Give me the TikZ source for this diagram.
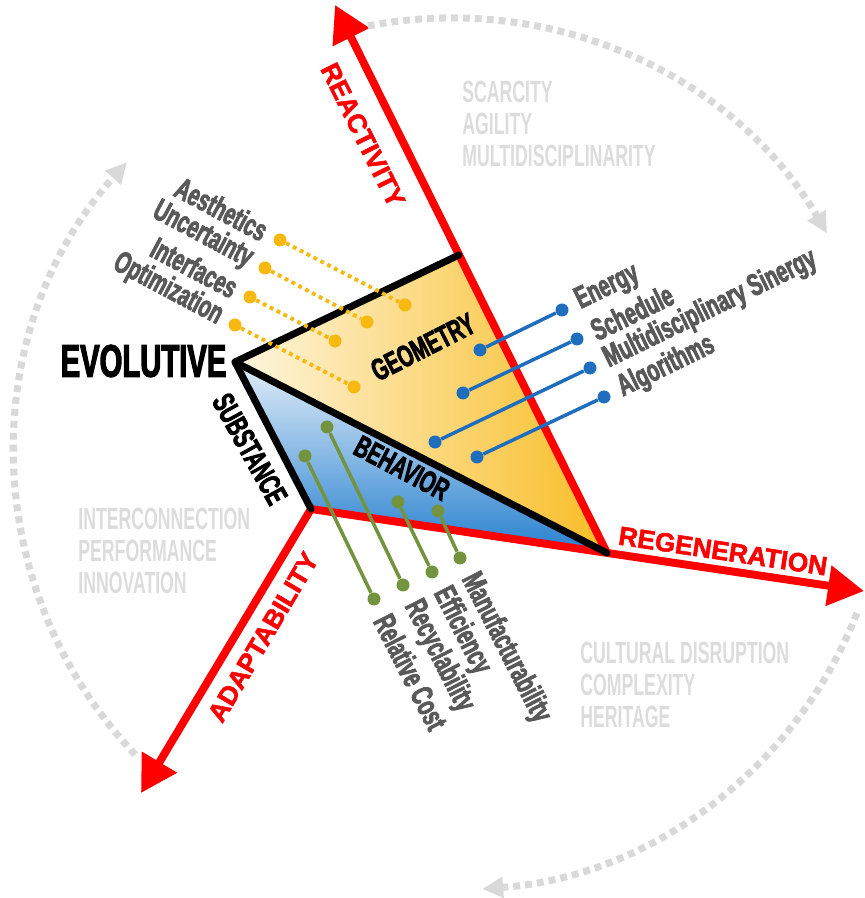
\documentclass[tikz,border=0pt]{standalone}
\usepackage{fontspec}
\setmainfont{Liberation Sans}
\newfontfamily\tagfont[FakeStretch=0.64,BoldFeatures={FakeBold=2.5}]{Liberation Sans}
\newfontfamily\narrowfont[FakeStretch=0.575]{Liberation Sans}
\newfontfamily\axisfont[BoldFeatures={FakeBold=2}]{Liberation Sans}
\usetikzlibrary{arrows.meta,calc}
\definecolor{axisred}{HTML}{FF0000}
\definecolor{ringgray}{HTML}{D9D9D9}
\definecolor{ctxgray}{HTML}{DCDCDC}
\definecolor{factorgray}{HTML}{595959}
\definecolor{dotgold}{HTML}{F7B90F}
\definecolor{linkblue}{HTML}{1F6EBE}
\definecolor{linkgreen}{HTML}{74933F}
\definecolor{geoLight}{HTML}{FEF6E0}
\definecolor{geoGold}{HTML}{F9BD25}
\definecolor{behLight}{HTML}{E3EEF9}
\definecolor{behBlue}{HTML}{2680CF}

\begin{document}
\begin{tikzpicture}[
  axisline/.style={draw=axisred,line width=4.5pt,line join=miter},
  rim/.style={draw=black,line width=4pt,line cap=round,line join=round},
  ringarc/.style={draw=ringgray,line width=4pt,dash pattern=on 3.9pt off 2.9pt,
    -{Triangle[length=0.42cm,width=0.4cm]}},
  axislabel/.style={text=axisred,inner sep=0,font=\axisfont\bfseries\fontsize{15}{18}\selectfont},
  facelabel/.style={inner sep=0,font=\tagfont\bfseries\fontsize{17.5}{20}\selectfont},
  factor/.style={text=factorgray,inner sep=0,font=\tagfont\bfseries\fontsize{17.5}{20}\selectfont},
  context/.style={text=ctxgray,inner sep=0,anchor=west,align=left,
    font=\narrowfont\bfseries\fontsize{17.5}{18.4}\selectfont},
  knob/.style={circle,fill=#1,minimum size=0.26cm,inner sep=0},
  linkline/.style={draw=#1,line width=2pt},
  dotlink/.style={draw=dotgold,line width=2.2pt,dash pattern=on 2.2pt off 2.2pt}]
  \useasboundingbox (0,0) rectangle (17.28,17.96);

  % corners of the prism
  \coordinate (E) at (4.70,10.72);
  \coordinate (T) at (9.18,12.86);
  \coordinate (R) at (12.14,6.90);
  \coordinate (S) at (6.22,7.78);
  \coordinate (tipReact) at (6.70,17.86);
  \coordinate (tipRegen) at (17.28,6.14);
  \coordinate (tipAdapt) at (2.82,2.10);
  \coordinate (C) at (9.02,8.88);

  \shade[left color=geoLight,right color=geoGold] (E) -- (T) -- (R) -- cycle;
  \shade[top color=behLight,bottom color=behBlue] (E) -- (S) -- (R) -- cycle;

  \draw[axisline,{Triangle[length=0.72cm,width=0.78cm]}-{Triangle[length=0.72cm,width=0.78cm]}]
    (tipAdapt) -- (S) -- (tipRegen);
  \draw[axisline,-{Triangle[length=0.72cm,width=0.78cm]}] (R) -- (tipReact);

  \draw[rim] (T) -- (E) -- (S);
  \draw[rim] (E) -- (R);

  % dashed cycle around
  \draw[ringarc] ($(C)+(101:8.72)$) arc[start angle=101,end angle=30.4,radius=8.72];
  \draw[ringarc] ($(C)+(-21.4:8.72)$) arc[start angle=-21.4,end angle=-85.9,radius=8.72];
  \draw[ringarc] ($(C)+(223.6:8.72)$) arc[start angle=223.6,end angle=138,radius=8.72];

  \node[facelabel,rotate=27] (geo) at (8.46,11.02) {GEOMETRY};
  \node[facelabel,rotate=-28] (beh) at (8.04,8.60) {BEHAVIOR};
  \node[facelabel,rotate=-61] (sub) at (5.00,8.98) {SUBSTANCE};
  \node[facelabel,font=\tagfont\bfseries\fontsize{26}{28}\selectfont] (evo)
    at (2.87,10.74) {EVOLUTIVE};

  \foreach \k/\ox/\oy/\ix/\iy/\txt in {
    1/5.60/13.16/8.10/11.86/Aesthetics,
    2/5.30/12.60/7.34/11.52/Uncertainty,
    3/5.00/12.02/6.70/11.14/Interfaces,
    4/4.70/11.46/7.08/10.22/Optimization}{
    \node[knob=dotgold] (ya\k) at (\ox,\oy) {};
    \node[knob=dotgold] (yb\k) at (\ix,\iy) {};
    \draw[dotlink] (ya\k) -- (yb\k);
    \node[factor,rotate=-28,anchor=east] (yt\k) at ($(ya\k)+(152:0.32)$) {\txt};
  }

  \foreach \k/\ox/\oy/\ix/\iy/\txt in {
    1/11.24/11.76/9.60/10.96/Energy,
    2/11.54/11.18/9.26/10.10/Schedule,
    3/11.80/10.60/8.70/9.12/Multidisciplinary Sinergy,
    4/12.08/10.02/9.54/8.82/Algorithms}{
    \node[knob=linkblue] (ba\k) at (\ox,\oy) {};
    \node[knob=linkblue] (bb\k) at (\ix,\iy) {};
    \draw[linkline=linkblue] (ba\k) -- (bb\k);
    \node[factor,rotate=26,anchor=west] (bt\k) at ($(ba\k)+(26:0.34)$) {\txt};
  }

  \foreach \k/\ox/\oy/\ix/\iy/\txt in {
    1/7.48/5.98/6.10/8.84/Relative Cost,
    2/8.06/6.26/6.54/9.42/Recyclability,
    3/8.64/6.52/7.96/7.92/Efficiency,
    4/9.20/6.80/8.76/7.74/Manufacturability}{
    \node[knob=linkgreen] (ga\k) at (\ox,\oy) {};
    \node[knob=linkgreen] (gb\k) at (\ix,\iy) {};
    \draw[linkline=linkgreen] (ga\k) -- (gb\k);
    \node[factor,rotate=-63,anchor=west] (gt\k) at ($(ga\k)+(-64:0.38)$) {\txt};
  }

  \node[axislabel,rotate=-63.6] (react) at (7.26,15.26) {REACTIVITY};
  \node[axislabel,rotate=-8.5] (regen) at (14.46,6.94) {REGENERATION};
  \node[axislabel,rotate=59.5] (adapt) at (5.26,5.22) {ADAPTABILITY};

  \node[context] (scarce) at (9.24,15.48) {SCARCITY\\AGILITY\\MULTIDISCIPLINARITY};
  \node[context] (inter) at (1.56,6.94) {INTERCONNECTION\\PERFORMANCE\\INNOVATION};
  \node[context] (cult) at (11.60,4.26) {CULTURAL DISRUPTION\\COMPLEXITY\\HERITAGE};
\end{tikzpicture}
\end{document}
